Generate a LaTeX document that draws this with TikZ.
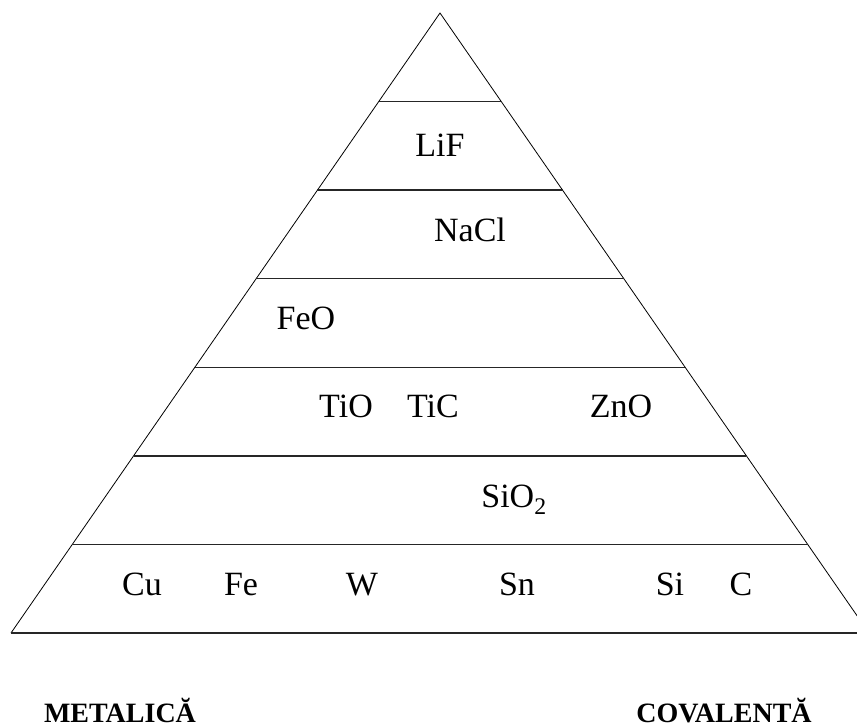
\documentclass[tikz,border=0pt]{standalone}
\usepackage{fontspec}
\setmainfont{Liberation Serif}
\usetikzlibrary{calc}

\tikzset{
  side/.style={line width=0.8pt},
  band/.style={line width=1.3pt, black!85},
  lbl/.style={inner sep=0pt, anchor=base, font=\fontsize{34}{40}\selectfont},
  bondname/.style={inner sep=0pt, anchor=base, font=\fontsize{28}{32}\selectfont\bfseries}
}

\begin{document}
\begin{tikzpicture}[x=1pt, y=-1pt]
\useasboundingbox (0,0) rectangle (857,727);
\clip (0,0) rectangle (857,727);

% ---------- pyramid ----------
\coordinate (apex) at (440,13);
\coordinate (bl) at (11,633);
\coordinate (br) at (869,633);
\draw[side] (bl) -- (apex) -- (br);

% ---------- bands ----------
\foreach \k in {1,...,7}
  \draw[band] ($(apex)!\k/7!(bl)$) -- ($(apex)!\k/7!(br)$);

% ---------- compounds ----------
\node[lbl] (lif) at (440,157) {LiF};
\node[lbl] (nacl) at (470,242) {NaCl};
\node[lbl] (feo) at (306,330) {FeO};
\node[lbl] (tio) at (346,417) {TiO};
\node[lbl] (tic) at (433,417) {TiC};
\node[lbl] (zno) at (621,417) {ZnO};
\node[lbl] (sio) at (514,507) {SiO\textsubscript{2}};

% ---------- elements ----------
\node[lbl] (cu) at (142,595) {Cu};
\node[lbl] (fe) at (241,595) {Fe};
\node[lbl] (w) at (362,595) {W};
\node[lbl] (sn) at (517,595) {Sn};
\node[lbl] (si) at (670,595) {Si};
\node[lbl] (c) at (741,595) {C};

% ---------- bond types ----------
\node[bondname] (metal) at (120,722) {METALICĂ};
\node[bondname] (coval) at (724,722) {COVALENTĂ};

\end{tikzpicture}
\end{document}
